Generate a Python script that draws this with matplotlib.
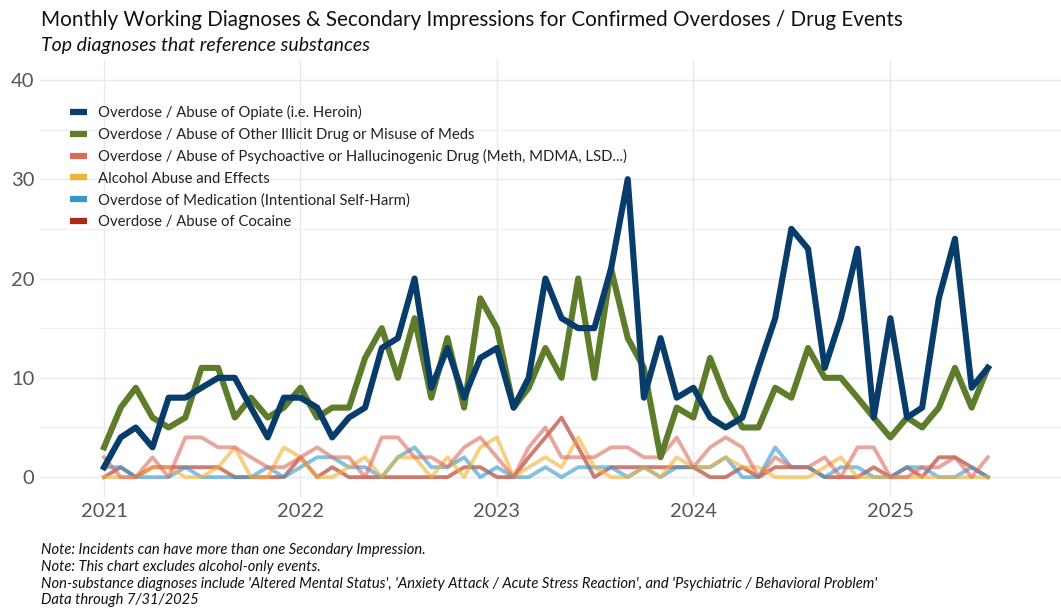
import matplotlib
matplotlib.use("Agg")
import matplotlib.pyplot as plt
from matplotlib.lines import Line2D
import pandas as pd

plt.rcParams['font.family'] = ['Lato', 'DejaVu Sans']

months = pd.date_range('2021-01-01', periods=55, freq='MS')

opiate = [1, 4, 5, 3, 8, 8, 9, 10, 10, 7, 4, 8,
          8, 7, 4, 6, 7, 13, 14, 20, 9, 13, 8, 12,
          13, 7, 10, 20, 16, 15, 15, 21, 30, 8, 14, 8,
          9, 6, 5, 6, 11, 16, 25, 23, 11, 16, 23, 6,
          16, 6, 7, 18, 24, 9, 11]
other_illicit = [3, 7, 9, 6, 5, 6, 11, 11, 6, 8, 6, 7,
                 9, 6, 7, 7, 12, 15, 10, 16, 8, 14, 7, 18,
                 15, 7, 9, 13, 10, 20, 10, 21, 14, 11, 2, 7,
                 6, 12, 8, 5, 5, 9, 8, 13, 10, 10, 8, 6,
                 4, 6, 5, 7, 11, 7, 11]
psychoactive = [2, 0, 0, 2, 0, 4, 4, 3, 3, 2, 1, 1,
                2, 3, 2, 2, 0, 4, 4, 2, 2, 1, 3, 4,
                2, 0, 3, 5, 2, 2, 2, 3, 3, 2, 2, 4,
                1, 3, 4, 3, 0, 2, 1, 1, 2, 0, 3, 3,
                0, 0, 1, 1, 2, 0, 2]
alcohol = [0, 0, 0, 1, 1, 0, 0, 1, 3, 0, 0, 3,
           2, 0, 0, 1, 2, 0, 2, 2, 0, 2, 0, 3,
           4, 0, 1, 2, 1, 4, 1, 0, 0, 1, 0, 2,
           1, 1, 2, 1, 1, 0, 0, 0, 1, 2, 0, 0,
           0, 0, 0, 0, 0, 0, 0]
medication = [1, 1, 0, 0, 0, 1, 0, 0, 0, 0, 1, 0,
              1, 2, 2, 1, 1, 0, 2, 3, 1, 1, 2, 0,
              1, 0, 0, 1, 0, 1, 1, 1, 0, 1, 0, 1,
              1, 1, 2, 0, 0, 3, 1, 1, 0, 1, 1, 0,
              0, 1, 1, 0, 0, 1, 0]
cocaine = [0, 1, 0, 1, 1, 1, 1, 1, 0, 0, 0, 0,
           2, 0, 1, 0, 0, 0, 0, 0, 0, 0, 1, 1,
           0, 0, 2, 4, 6, 3, 0, 1, 1, 1, 1, 1,
           1, 0, 0, 1, 0, 1, 1, 1, 0, 0, 0, 1,
           0, 1, 0, 2, 2, 1, 0]

labels = ["Overdose / Abuse of Opiate (i.e. Heroin)",
          "Overdose / Abuse of Other Illicit Drug or Misuse of Meds",
          "Overdose / Abuse of Psychoactive or Hallucinogenic Drug (Meth, MDMA, LSD...)",
          "Alcohol Abuse and Effects",
          "Overdose of Medication (Intentional Self-Harm)",
          "Overdose / Abuse of Cocaine"]
colors = ["#073c6b", "#5e7d2b", "#db6b5f", "#f2b136", "#3597cc", "#ae2912"]

fig = plt.figure(figsize=(10.61, 6.09), dpi=100)
ax = fig.add_axes([40 / 1061, 1 - 497 / 609, 1 - 40 / 1061, 437 / 609])

# small series underneath, big two on top
small = [(cocaine, 5), (medication, 4), (alcohol, 3), (psychoactive, 2)]
for vals, i in small:
    ax.plot(months, vals, color=colors[i], lw=2.8, alpha=0.6, zorder=2)
ax.plot(months, other_illicit, color=colors[1], lw=4.4, zorder=3)
ax.plot(months, opiate, color=colors[0], lw=4.4, zorder=4)

ax.set_ylim(-2, 42)
ax.set_xlim(pd.Timestamp('2020-09-04'), pd.Timestamp('2025-11-14'))
ax.set_yticks([0, 10, 20, 30, 40])
ax.set_yticks([5, 15, 25, 35], minor=True)
years = pd.date_range('2021-01-01', periods=5, freq='YS')
ax.set_xticks(years)
ax.set_xticklabels([str(y.year) for y in years])
ax.grid(True, which='major', color='#e9e9e9', lw=1.0)
ax.grid(True, which='minor', axis='y', color='#efefef', lw=0.9)
ax.set_axisbelow(True)
for s in ax.spines.values():
    s.set_visible(False)
ax.tick_params(axis='both', which='both', length=0, labelsize=14.5, labelcolor='#555555')
ax.tick_params(axis='y', pad=4)
ax.tick_params(axis='x', pad=4)

handles = [Line2D([0], [0], color=c, lw=4.5, solid_capstyle='butt') for c in colors]
leg = ax.legend(handles, labels, loc='upper left', bbox_to_anchor=(0.024, 0.91),
                frameon=False, fontsize=10.7, handlelength=1.1, handletextpad=0.75,
                labelspacing=0.50, borderaxespad=0)
for t in leg.get_texts():
    t.set_color('#222222')

fig.text(41 / 1061, 1 - 20 / 609, "Monthly Working Diagnoses & Secondary Impressions for Confirmed Overdoses / Drug Events",
         fontsize=14.9, color='#111111', va='center', ha='left')
fig.text(41 / 1061, 1 - 45 / 609, "Top diagnoses that reference substances",
         fontsize=14, style='italic', color='#111111', va='center', ha='left')

notes = ["Note: Incidents can have more than one Secondary Impression.",
         "Note: This chart excludes alcohol-only events.",
         "Non-substance diagnoses include 'Altered Mental Status', 'Anxiety Attack / Acute Stress Reaction', and 'Psychiatric / Behavioral Problem'",
         "Data through 7/31/2025"]
for k, n in enumerate(notes):
    fig.text(41 / 1061, 1 - (550 + 16.8 * k) / 609, n, fontsize=10.6, style='italic',
             color='#111111', va='center', ha='left')

fig.savefig("out.png", dpi=100)
